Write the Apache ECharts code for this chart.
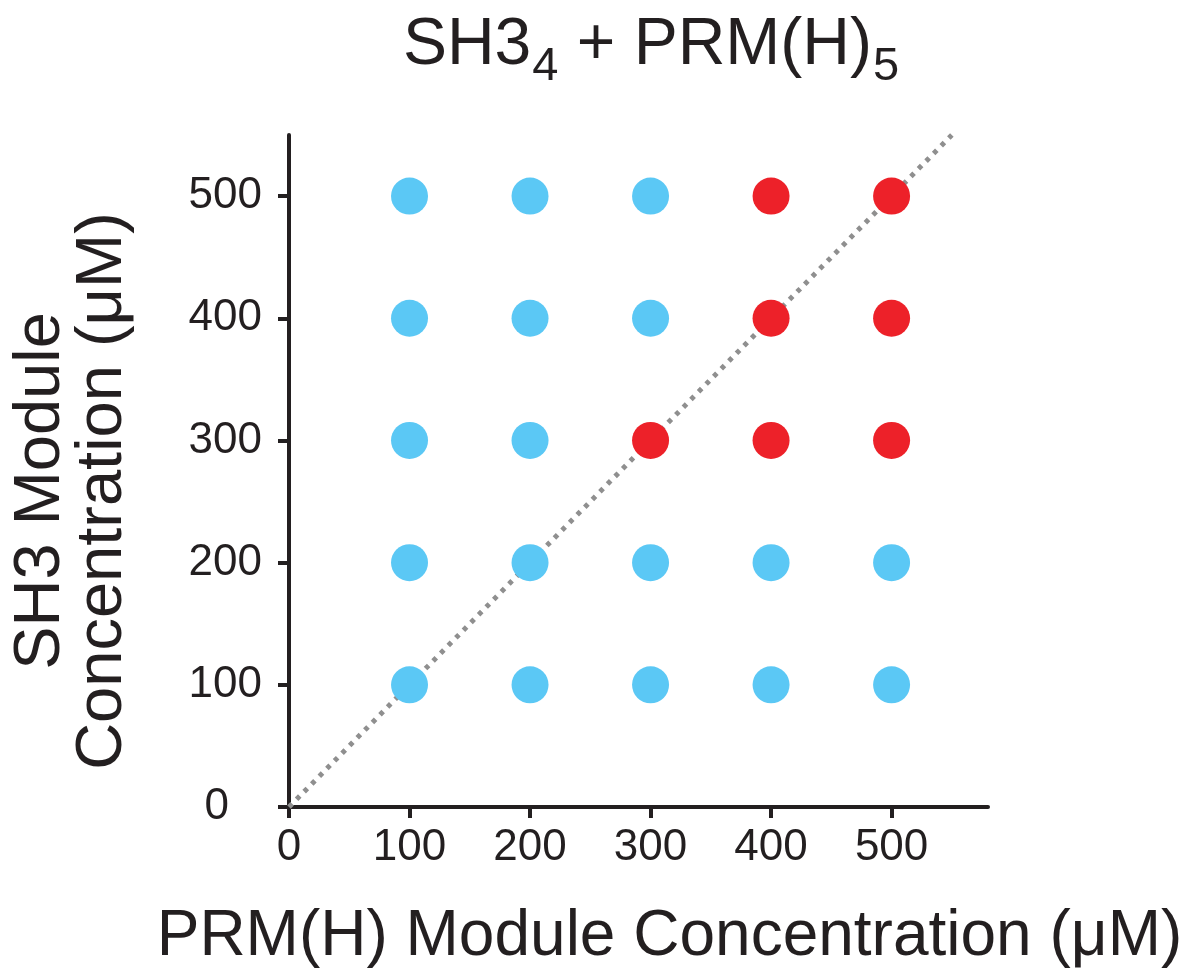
<!DOCTYPE html>
<html>
<head>
<meta charset="utf-8">
<script src="https://cdn.jsdelivr.net/npm/echarts@6/dist/echarts.min.js"></script>
<style>
html,body{margin:0;padding:0;background:#fff;}
#chart{width:1189px;height:976px;}
</style>
</head>
<body>
<div id="chart"></div>
<script>
// PRM(H) concentration (x), SH3 concentration (y) in µM
const tickValues = [0, 100, 200, 300, 400, 500];
const phaseSeparated = [
  [300, 300], [400, 300], [500, 300],
  [400, 400], [500, 400],
  [400, 500], [500, 500]
];
const noPhaseSeparation = [
  [100, 100], [200, 100], [300, 100], [400, 100], [500, 100],
  [100, 200], [200, 200], [300, 200], [400, 200], [500, 200],
  [100, 300], [200, 300],
  [100, 400], [200, 400], [300, 400],
  [100, 500], [200, 500], [300, 500]
];
const diagonal = [[0, 0], [550, 550]];
const xMax = 580, yMax = 550;

const ink = '#231f20';
const fontFamily = 'Liberation Sans, Arial, Helvetica, sans-serif';

const chart = echarts.init(document.getElementById('chart'));
chart.setOption({
  animation: false,
  backgroundColor: '#ffffff',
  title: {
    text: '{a|SH3}{b|4}{a| + PRM(H)}{b|5}',
    left: 646,
    textAlign: 'center',
    top: -2,
    textStyle: {
      fontWeight: 'normal',
      rich: {
        a: { fontSize: 66, fontWeight: 'normal', color: ink, fontFamily: fontFamily, lineHeight: 76, verticalAlign: 'bottom' },
        b: { fontSize: 47, fontWeight: 'normal', color: ink, fontFamily: fontFamily, lineHeight: 76, verticalAlign: 'bottom', padding: [0, 0, -12, 1] }
      }
    }
  },
  grid: { left: 289, right: 201, top: 135, bottom: 169 },
  xAxis: {
    type: 'value',
    min: 0, max: xMax, interval: 100,
    name: 'PRM(H) Module Concentration (μM)',
    nameLocation: 'middle',
    nameGap: 98,
    nameTextStyle: { fontSize: 64, color: ink, fontFamily: fontFamily, padding: [0, 0, 0, 62] },
    axisLine: { show: true, onZero: false, lineStyle: { color: ink, width: 4 } },
    axisTick: { show: true, length: 11, customValues: tickValues, lineStyle: { color: ink, width: 4 } },
    axisLabel: { show: true, customValues: tickValues, margin: 19, fontSize: 44, color: ink, fontFamily: fontFamily },
    splitLine: { show: false }
  },
  yAxis: {
    type: 'value',
    min: 0, max: yMax, interval: 100,
    name: 'SH3 Module\nConcentration (μM)',
    nameLocation: 'middle',
    nameRotate: 90,
    nameGap: 155,
    nameTextStyle: { fontSize: 65, lineHeight: 62, color: ink, fontFamily: fontFamily, align: 'center', padding: [0, 40, 0, 0] },
    axisLine: { show: true, onZero: false, lineStyle: { color: ink, width: 4 } },
    axisTick: { show: true, length: 11, customValues: tickValues, lineStyle: { color: ink, width: 4 } },
    axisLabel: {
      show: true, customValues: tickValues, margin: 27, fontSize: 44, color: ink, fontFamily: fontFamily,
      formatter: function (v) { return v === 0 ? '{z|0}' : String(v); },
      rich: { z: { fontSize: 44, color: ink, fontFamily: fontFamily, padding: [0, 33, 0, 0] } }
    },
    splitLine: { show: false }
  },
  series: [
    {
      type: 'line',
      data: diagonal,
      symbol: 'none',
      silent: true,
      z: 1,
      lineStyle: { color: '#8f8f8f', width: 5, type: [4.5, 6.3], cap: 'butt' }
    },
    {
      type: 'scatter',
      data: noPhaseSeparation,
      symbol: 'circle',
      symbolSize: 37,
      z: 3,
      itemStyle: { color: '#5bc8f5', opacity: 1 }
    },
    {
      type: 'scatter',
      data: phaseSeparated,
      symbol: 'circle',
      symbolSize: 37,
      z: 3,
      itemStyle: { color: '#ed2129', opacity: 1 }
    }
  ]
});
</script>
</body>
</html>
